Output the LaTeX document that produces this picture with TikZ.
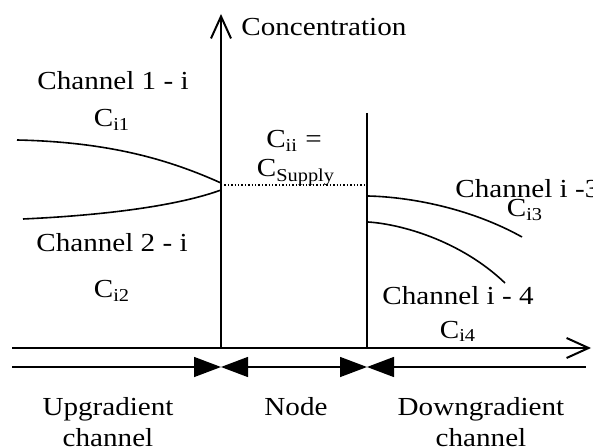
\documentclass[tikz,border=0pt]{standalone}
\usepackage{fontspec}
\setmainfont{Liberation Serif}[FakeStretch=1.12]
\usetikzlibrary{arrows.meta}

\begin{document}
\begin{tikzpicture}[
    x=0.5pt, y=-0.5pt,
    axis/.style={line width=1pt, -{Straight Barb[length=11pt, width=10pt, line width=1pt]}},
    wall/.style={line width=1pt},
    curve/.style={line width=0.8pt},
    dim/.style={line width=0.7pt},
    tri/.tip={Triangle[length=13.5pt, width=10pt]},
    lbl/.style={font=\fontsize{13}{15.5}\selectfont, inner sep=0pt, align=center}
]
\useasboundingbox (0,0) rectangle (593,448);

% Axes and node walls
\coordinate (O) at (221,348);
\coordinate (ytop) at (221,14);
\coordinate (xl) at (12,348);
\coordinate (xr) at (591,348);
\coordinate (wtop) at (367,113);
\coordinate (wbot) at (367,348);
\draw[wall] (xl) -- (O);
\draw[axis] (O) -- (ytop);
\draw[axis] (O) -- (xr);
\draw[wall] (wtop) -- (wbot);

% Supply level
\coordinate (s0) at (221,185);
\coordinate (s1) at (367,185);
\draw[densely dotted, line width=0.7pt] (s0) -- (s1);

% Concentration curves
\coordinate (a0) at (17,140);  \coordinate (a1) at (221,183);
\coordinate (b0) at (23,219);  \coordinate (b1) at (221,190);
\coordinate (c0) at (368,196); \coordinate (c1) at (522,237);
\coordinate (e0) at (368,222); \coordinate (e1) at (505,283);
\draw[curve] (a0) .. controls (110,142) and (170,160) .. (a1);
\draw[curve] (b0) .. controls (110,215) and (180,205) .. (b1);
\draw[curve] (c0) .. controls (410,197) and (470,208) .. (c1);
\draw[curve] (e0) .. controls (400,224) and (460,240) .. (e1);

% Extent line
\coordinate (d0) at (12,367);
\coordinate (d1) at (221,367);
\coordinate (d2) at (367,367);
\coordinate (d3) at (586,367);
\draw[dim, -tri] (d0) -- (d1);
\draw[dim, tri-tri] (d1) -- (d2);
\draw[dim, tri-] (d2) -- (d3);

% Labels
\node[lbl, anchor=base west] (conc) at (241,36) {Concentration};
\node[lbl, anchor=base] (ch1) at (113,90) {Channel 1 - i};
\node[lbl, anchor=base] (ci1) at (112,127) {C\textsubscript{i1}};
\node[lbl, anchor=base] (cii) at (294,148) {C\textsubscript{ii} =};
\node[lbl, anchor=base] (csup) at (296,177) {C\textsubscript{Supply}};
\node[lbl, anchor=base west] (ch3) at (455,198) {Channel i -3};
\node[lbl, anchor=base] (ci3) at (525,217) {C\textsubscript{i3}};
\node[lbl, anchor=base] (ch2) at (112,252) {Channel 2 - i};
\node[lbl, anchor=base] (ci2) at (112,298) {C\textsubscript{i2}};
\node[lbl, anchor=base] (ch4) at (458,305) {Channel i - 4};
\node[lbl, anchor=base] (ci4) at (458,338) {C\textsubscript{i4}};
\node[lbl, anchor=base] (up) at (108,446) {Upgradient\\channel};
\node[lbl, anchor=base] (nd) at (296,415) {Node};
\node[lbl, anchor=base] (down) at (481,446) {Downgradient\\channel};
\end{tikzpicture}
\end{document}
